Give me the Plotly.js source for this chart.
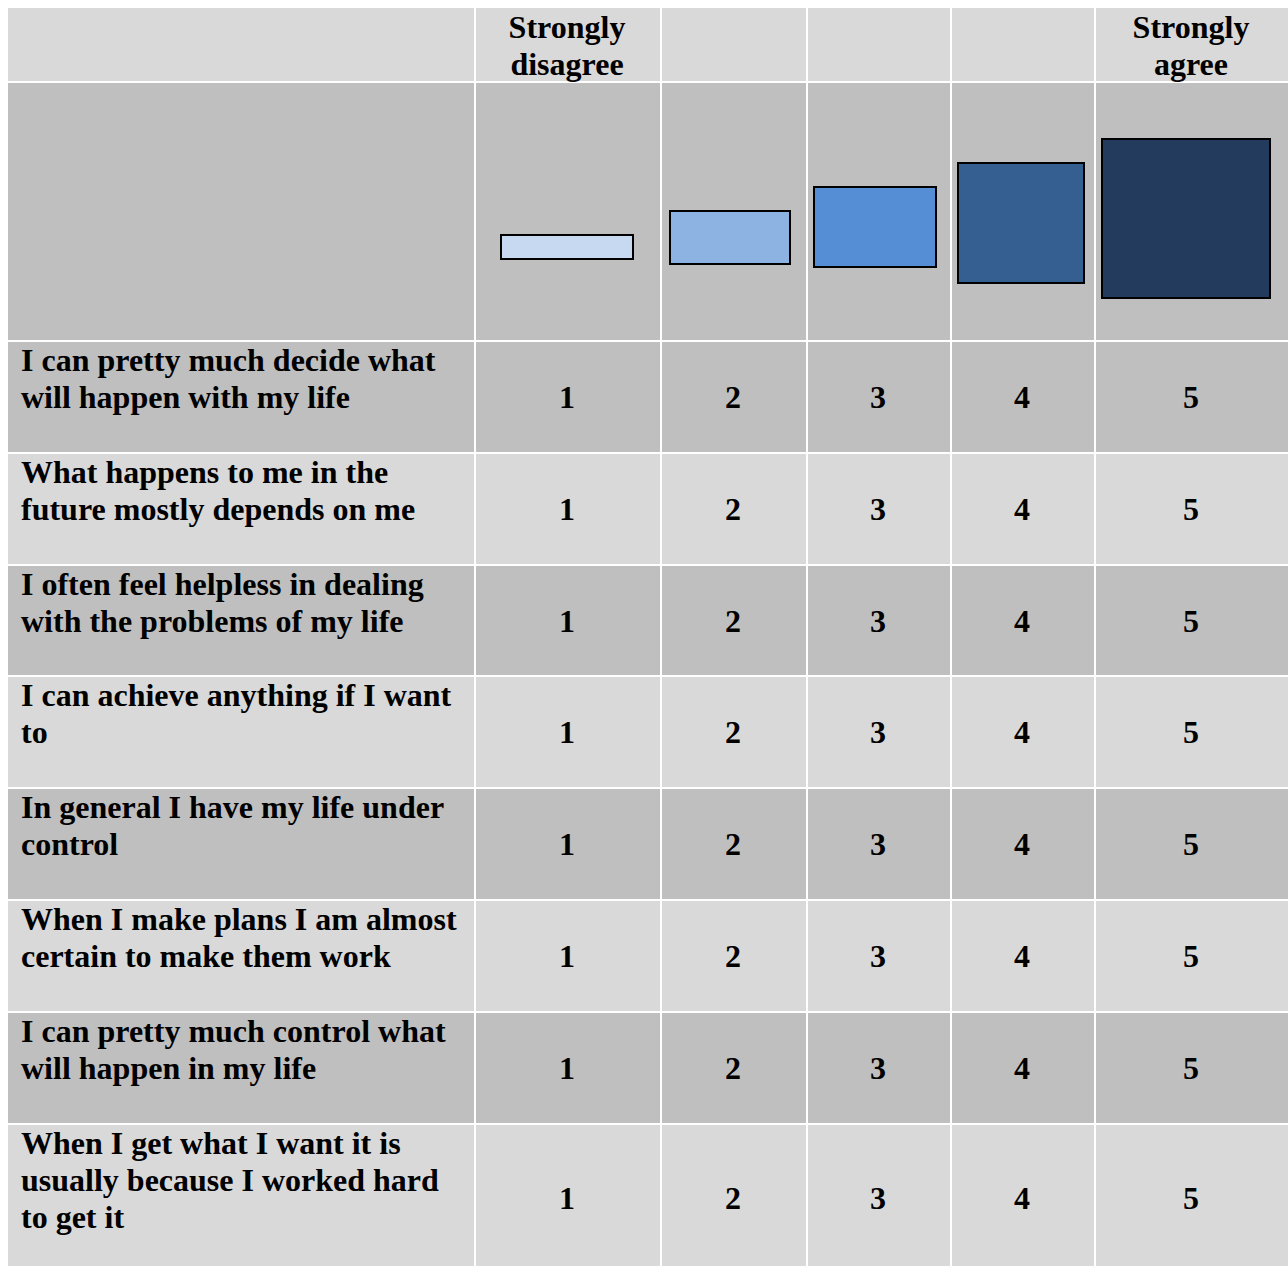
<!DOCTYPE html>
<html><head><meta charset="utf-8">
<script src="https://cdn.plot.ly/plotly-3.0.1.min.js"></script>
<style>html,body{margin:0;padding:0;background:#fff}</style>
</head><body><div id="chart" style="width:1288px;height:1266px"></div>
<script>
// ---- data ----
const statements = [
  ["I can pretty much decide what", "will happen with my life"],
  ["What happens to me in the", "future mostly depends on me"],
  ["I often feel helpless in dealing", "with the problems of my life"],
  ["I can achieve anything if I want", "to"],
  ["In general I have my life under", "control"],
  ["When I make plans I am almost", "certain to make them work"],
  ["I can pretty much control what", "will happen in my life"],
  ["When I get what I want it is", "usually because I worked hard", "to get it"]
];
const ratings = [1, 2, 3, 4, 5];
const scaleLabels = [["Strongly", "disagree"], [], [], [], ["Strongly", "agree"]];
// illustrative boxes of the scale (chart units)
const boxLeft   = [501, 670, 814, 958, 1102];
const boxRight  = [633, 790, 936, 1084, 1270];
const boxTop    = [235, 211, 187, 163, 139];
const boxBottom = [259, 264, 267, 283, 298];
const boxColors = ['#c6d9f1', '#8db3e2', '#558ed5', '#355f91', '#233c5d'];
// table grid
const colEdges = [7, 475, 661, 807, 951, 1095, 1289];
const rowEdges = [7, 82, 341, 453, 565, 676, 788, 900, 1012, 1124, 1271];

// ---- build ----
const nCols = colEdges.length - 1;
const nRows = rowEdges.length - 1;
const z = [];
for (let r = 0; r < nRows; r++) {
  let v;
  if (r === 0) v = 0; else if (r === 1) v = 1; else v = ((r - 2) % 2 === 0) ? 1 : 0;
  z.push(new Array(nCols).fill(v));
}
const grid = {
  type: 'heatmap', x: colEdges, y: rowEdges, z: z,
  colorscale: [[0, '#d9d9d9'], [1, '#bfbfbf']], zmin: 0, zmax: 1,
  showscale: false, xgap: 2, ygap: 2, hoverinfo: 'skip'
};

const boxes = {
  type: 'bar',
  x: boxLeft.map((l, i) => (l + boxRight[i]) / 2),
  width: boxLeft.map((l, i) => boxRight[i] - l),
  base: boxTop,
  y: boxTop.map((t, i) => boxBottom[i] - t),
  marker: { color: boxColors, line: { color: '#000000', width: 2 } },
  hoverinfo: 'skip'
};

const colCenter = i => (colEdges[i] + colEdges[i + 1]) / 2;
const rowCenter = i => (rowEdges[i] + rowEdges[i + 1]) / 2 + 3;
const lineY = (rowIdx, k) => rowEdges[rowIdx] + 22 + k * 37;
const font = { family: 'Liberation Serif, Times New Roman, serif', size: 32, color: '#000000' };

// statements (left column)
const sx = [], sy = [], st = [];
statements.forEach((lines, i) => {
  lines.forEach((ln, k) => { sx.push(colEdges[0] + 14); sy.push(lineY(i + 2, k)); st.push('<b>' + ln + '</b>'); });
});
const stmtTrace = { type: 'scatter', mode: 'text', x: sx, y: sy, text: st,
  textposition: 'middle right', textfont: font, hoverinfo: 'skip' };

// numbers + header labels (centered)
const cx = [], cy = [], ct = [];
statements.forEach((lines, i) => {
  ratings.forEach((v, j) => { cx.push(colCenter(j + 1) - 1); cy.push(rowCenter(i + 2)); ct.push('<b>' + v + '</b>'); });
});
scaleLabels.forEach((lines, j) => {
  lines.forEach((ln, k) => { cx.push(colCenter(j + 1) - 1); cy.push(lineY(0, k) + 1); ct.push('<b>' + ln + '</b>'); });
});
const centerTrace = { type: 'scatter', mode: 'text', x: cx, y: cy, text: ct,
  textposition: 'middle center', textfont: font, hoverinfo: 'skip' };

const layout = {
  width: 1288, height: 1266,
  margin: { l: 0, r: 0, t: 0, b: 0, pad: 0 },
  paper_bgcolor: '#ffffff', plot_bgcolor: '#ffffff',
  showlegend: false, hovermode: false,
  font: font,
  xaxis: { range: [0, 1288], visible: false, fixedrange: true },
  yaxis: { range: [1266, 0], visible: false, fixedrange: true },
  bargap: 0
};
Plotly.newPlot('chart', [grid, boxes, stmtTrace, centerTrace], layout, { staticPlot: true, displayModeBar: false });
</script></body></html>
